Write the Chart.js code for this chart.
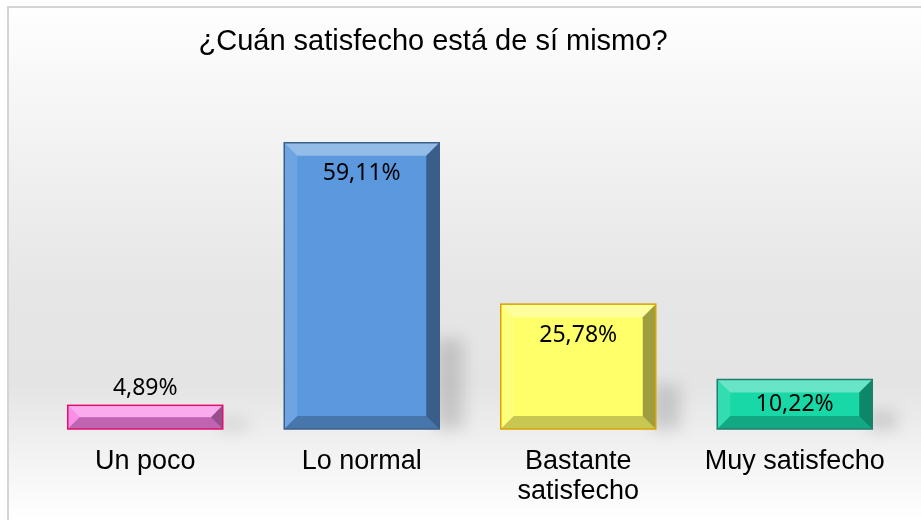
<!DOCTYPE html>
<html>
<head>
<meta charset="utf-8">
<script src="https://cdn.jsdelivr.net/npm/chart.js@4"></script>
<style>
  html, body { margin: 0; padding: 0; background: #fff; }
  #wrap { width: 921px; height: 520px; }
</style>
</head>
<body>
<div id="wrap"><canvas id="satisChart" width="921" height="520"></canvas></div>
<script>
const chartTitle = '¿Cuán satisfecho está de sí mismo?';
const categories = ['Un poco', 'Lo normal', ['Bastante', 'satisfecho'], 'Muy satisfecho'];
const values = [4.89, 59.11, 25.78, 10.22];
const valueLabels = ['4,89%', '59,11%', '25,78%', '10,22%'];
const fillColors = ['#f77fe3', '#5b98de', '#ffff6a', '#18d8a8'];
const edgeColors = ['#e0106e', '#3b5f8c', '#d9a400', '#1f7f6c'];

const backdrop = {
  id: 'backdrop',
  beforeDraw(chart) {
    const { ctx, width, height } = chart;
    ctx.save();
    const g = ctx.createLinearGradient(0, 0, 0, height);
    g.addColorStop(0, '#ffffff');
    g.addColorStop(0.15, '#f8f8f8');
    g.addColorStop(0.55, '#e6e6e6');
    g.addColorStop(0.74, '#e4e4e4');
    g.addColorStop(0.88, '#f3f3f3');
    g.addColorStop(1, '#ffffff');
    ctx.fillStyle = '#ffffff';
    ctx.fillRect(0, 0, width, height);
    ctx.fillStyle = g;
    ctx.fillRect(8, 7, width - 8, height - 7);
    ctx.strokeStyle = '#d4d4d4';
    ctx.lineWidth = 2;
    ctx.beginPath();
    ctx.moveTo(8, height);
    ctx.lineTo(8, 7);
    ctx.lineTo(width, 7);
    ctx.stroke();
    // title
    ctx.fillStyle = '#000';
    ctx.font = '29px "Liberation Sans", Arial, sans-serif';
    ctx.textAlign = 'center';
    ctx.textBaseline = 'middle';
    ctx.fillText(chartTitle, 433, 42);
    ctx.restore();
  },
  beforeDatasetsDraw(chart) {
    const { ctx } = chart;
    const meta = chart.getDatasetMeta(0);
    ctx.save();
    ctx.filter = 'blur(8px)';
    ctx.fillStyle = 'rgba(0,0,0,0.15)';
    meta.data.forEach(bar => {
      const h = bar.base - bar.y;
      const right = bar.x + bar.width / 2;
      const top = bar.base - Math.min(h * 0.35, 90);
      ctx.fillRect(right - 4, top, 28, bar.base - top);
    });
    ctx.restore();
  }
};

const bevel = {
  id: 'bevel',
  afterDatasetsDraw(chart) {
    const { ctx } = chart;
    const meta = chart.getDatasetMeta(0);
    ctx.save();
    meta.data.forEach((bar, i) => {
      const l = bar.x - bar.width / 2, r = bar.x + bar.width / 2;
      const t = bar.y, b = bar.base;
      const d = Math.min(13, (b - t) / 2, bar.width / 2);
      const poly = (pts, color) => {
        ctx.beginPath();
        ctx.moveTo(pts[0][0], pts[0][1]);
        for (let k = 1; k < pts.length; k++) ctx.lineTo(pts[k][0], pts[k][1]);
        ctx.closePath();
        ctx.fillStyle = color;
        ctx.fill();
      };
      poly([[l, t], [r, t], [r - d, t + d], [l + d, t + d]], 'rgba(255,255,255,0.35)');
      poly([[l, t], [l + d, t + d], [l + d, b - d], [l, b]], 'rgba(255,255,255,0.12)');
      poly([[r, t], [r, b], [r - d, b - d], [r - d, t + d]], 'rgba(0,0,0,0.38)');
      poly([[l, b], [l + d, b - d], [r - d, b - d], [r, b]], 'rgba(0,0,0,0.22)');
      ctx.strokeStyle = edgeColors[i];
      ctx.lineWidth = 1.5;
      ctx.strokeRect(l, t, r - l, b - t);

      // value label
      ctx.fillStyle = '#000';
      ctx.font = '23px "Noto Sans", "Open Sans", sans-serif';
      ctx.textAlign = 'center';
      ctx.textBaseline = 'middle';
      const h = b - t;
      const y = h < 40 ? t - 17 : t + Math.min(31, h / 2);
      ctx.fillText(valueLabels[i], bar.x, y);
    });
    ctx.restore();
  }
};

new Chart(document.getElementById('satisChart'), {
  type: 'bar',
  data: {
    labels: categories,
    datasets: [{
      data: values,
      backgroundColor: fillColors,
      borderWidth: 0,
      categoryPercentage: 0.8,
      barPercentage: 0.895
    }]
  },
  options: {
    responsive: false,
    animation: false,
    layout: { padding: { left: 37, right: 18, top: 90, bottom: 0 } },
    plugins: { legend: { display: false }, tooltip: { enabled: false }, title: { display: false } },
    scales: {
      x: {
        grid: { display: false, drawTicks: false },
        border: { display: false },
        ticks: {
          color: '#000',
          padding: 18,
          maxRotation: 0,
          font: { family: '"Liberation Sans", Arial, sans-serif', size: 27, lineHeight: 1.11 }
        },
        afterFit(scale) { scale.height = 91; }
      },
      y: { display: false, min: 0, max: 70 }
    }
  },
  plugins: [backdrop, bevel]
});
</script>
</body>
</html>
